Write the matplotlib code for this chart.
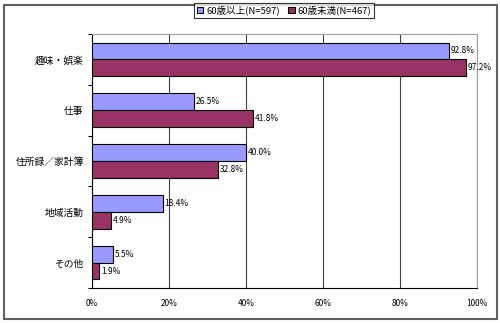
import matplotlib
matplotlib.use("Agg")
import matplotlib.pyplot as plt
from matplotlib.patches import Rectangle
import numpy as np

plt.rcParams['font.family'] = ['Noto Sans CJK JP', 'DejaVu Sans']

categories = ["趣味・娯楽", "仕事", "住所録／家計簿", "地域活動", "その他"]
over60 = [92.8, 26.5, 40.0, 18.4, 5.5]
under60 = [97.2, 41.8, 32.8, 4.9, 1.9]
series_names = ["60歳以上(N=597)", "60歳未満(N=467)"]
xticks = [0, 20, 40, 60, 80, 100]
xtick_labels = ["0%", "20%", "40%", "60%", "80%", "100%"]

fig = plt.figure(figsize=(5.0, 3.23), dpi=100)
ax = fig.add_axes([0.184, 0.108, 0.77, 0.787])

y = np.arange(len(categories))
h = 0.33
b1 = ax.barh(y - h / 2, over60, height=h, color="#9999FF", edgecolor="black",
             linewidth=0.8, label=series_names[0], zorder=3)
b2 = ax.barh(y + h / 2, under60, height=h, color="#993366", edgecolor="black",
             linewidth=0.8, label=series_names[1], zorder=3)

for bars, vals in ((b1, over60), (b2, under60)):
    for bar, v in zip(bars, vals):
        ax.text(v + 0.4, bar.get_y() + bar.get_height() / 2, f"{v:.1f}%",
                va="center", ha="left", fontsize=6, zorder=4)

ax.set_xlim(0, 100)
ax.set_ylim(len(categories) - 0.5, -0.5)
ax.set_xticks(xticks)
ax.set_xticklabels(xtick_labels, fontsize=6)
ax.tick_params(axis="x", length=0, pad=8)
ax.set_yticks(y)
ax.set_yticklabels(categories, fontsize=7)
ax.tick_params(axis="y", which="major", length=0, pad=6)
ax.set_yticks(np.arange(-0.5, len(categories), 1), minor=True)
ax.tick_params(axis="y", which="minor", length=3, direction="out", width=0.8)

ax.grid(axis="x", color="#404040", linewidth=0.8, zorder=0)
for side in ("top", "right"):
    ax.spines[side].set_color("#A0A0A0")
    ax.spines[side].set_linewidth(0.8)
for side in ("left", "bottom"):
    ax.spines[side].set_color("black")
    ax.spines[side].set_linewidth(0.8)

leg = fig.legend(handles=[b1, b2], loc="upper center", bbox_to_anchor=(0.568, 0.99),
                 ncol=2, fontsize=6.8, frameon=True, fancybox=False,
                 handlelength=0.7, handleheight=0.7, handletextpad=0.3,
                 columnspacing=0.9, borderpad=0.25, borderaxespad=0)
leg.get_frame().set_edgecolor("black")
leg.get_frame().set_linewidth(0.8)

# outer frame of the chart
fig.patches.append(Rectangle((0.007, 0.012), 0.986, 0.972, transform=fig.transFigure,
                             fill=False, edgecolor="#606060", linewidth=1.5))

fig.savefig("out.png", dpi=100)
